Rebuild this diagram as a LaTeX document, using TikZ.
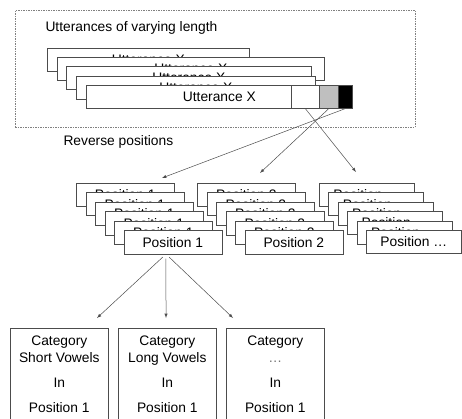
\documentclass[tikz,border=0pt]{standalone}
\usepackage{fontspec}
\setmainfont{Liberation Sans}
\begin{document}
\begin{tikzpicture}[x=1pt,y=-1pt,font=\fontsize{13.8}{17}\selectfont]
	\useasboundingbox (0,0) rectangle (462,419);
	\tikzstyle{carte}=[draw=black!70,fill=white,inner sep=0pt,anchor=north west,minimum height=23pt,line width=0.6pt]
	\tikzstyle{posbox}=[carte,minimum width=98pt]
	\tikzstyle{catbox}=[carte,minimum width=98pt,minimum height=92pt,align=center]
	\tikzstyle{fl}=[->,>=latex,draw=black!70,line width=0.5pt]

	% frame of the utterances
	\node[draw=black!50,dash pattern=on 1.5pt off 1pt,line width=0.6pt,anchor=north west,minimum width=400pt,minimum height=117pt,inner sep=0pt] (cadre) at (15,10) {};
	\node[anchor=base west] (titre) at (42,32) {Utterances of varying length};

	\node[carte,minimum width=202pt] (u1) at (47,48) {Utterance X};
	\node[carte,minimum width=267pt] (u2) at (57,57) {Utterance X};
	\node[carte,minimum width=245pt] (u3) at (66,66) {Utterance X};
	\node[carte,minimum width=239pt] (u4) at (76,76) {Utterance X};
	\node[carte,minimum width=266pt] (u5) at (86,85) {Utterance X};
	\node[carte,minimum width=28pt] (cw) at (291,85) {};
	\node[carte,minimum width=19pt,fill=black!25] (cg) at (319,85) {};
	\node[carte,minimum width=14pt,fill=black] (cb) at (338,85) {};

	\node[anchor=base west] (rev) at (60,146) {Reverse positions};

	% reversed positions
	\node[posbox] (p1a) at (76,183) {Position 1};
	\node[posbox] (p1b) at (85.5,192.5) {Position 1};
	\node[posbox] (p1c) at (95,202) {Position 1};
	\node[posbox] (p1d) at (104.5,211.5) {Position 1};
	\node[posbox] (p1e) at (114,221) {Position 1};
	\node[posbox] (p1f) at (123.5,230.5) {Position 1};

	\node[posbox] (p2a) at (197,183) {Position 2};
	\node[posbox] (p2b) at (206.5,192.5) {Position 2};
	\node[posbox] (p2c) at (216,202) {Position 2};
	\node[posbox] (p2d) at (225.5,211.5) {Position 2};
	\node[posbox] (p2e) at (235,221) {Position 2};
	\node[posbox] (p2f) at (244.5,230.5) {Position 2};

	\node[posbox,minimum width=95pt] (p3a) at (319,183) {Position \dots};
	\node[posbox,minimum width=95pt] (p3b) at (328.4,192.4) {Position \dots};
	\node[posbox,minimum width=95pt] (p3c) at (337.8,201.8) {Position \dots};
	\node[posbox,minimum width=95pt] (p3d) at (347.2,211.2) {Position \dots};
	\node[posbox,minimum width=95pt] (p3e) at (356.6,220.6) {Position \dots};
	\node[posbox,minimum width=95pt] (p3f) at (366,230) {Position \dots};

	% categories
	\node[catbox] (c1) at (10,328) {Category\\Short Vowels\\[8pt]In\\[8pt]Position 1};
	\node[catbox] (c2) at (118,328) {Category\\Long Vowels\\[8pt]In\\[8pt]Position 1};
	\node[catbox] (c3) at (226,328) {Category\\\textcolor{black!55}{\dots}\\[8pt]In\\[8pt]Position 1};

	\coordinate (t1) at (162,178);
	\coordinate (t2) at (260,173);
	\coordinate (t3) at (356,172);
	\coordinate (e1) at (97,318);
	\coordinate (e2) at (166,318);
	\coordinate (e3) at (233,318);

	\draw[fl] (cb.south) -- (t1);
	\draw[fl] (cg.south) -- (t2);
	\draw[fl] (cw.south) -- (t3);

	\draw[fl,shorten <=4.5pt] (p1f.240) -- (e1);
	\draw[fl,shorten <=4.5pt] (p1f.240) -- (e2);
	\draw[fl,shorten <=4.5pt] (p1f.240) -- (e3);
\end{tikzpicture}
\end{document}
